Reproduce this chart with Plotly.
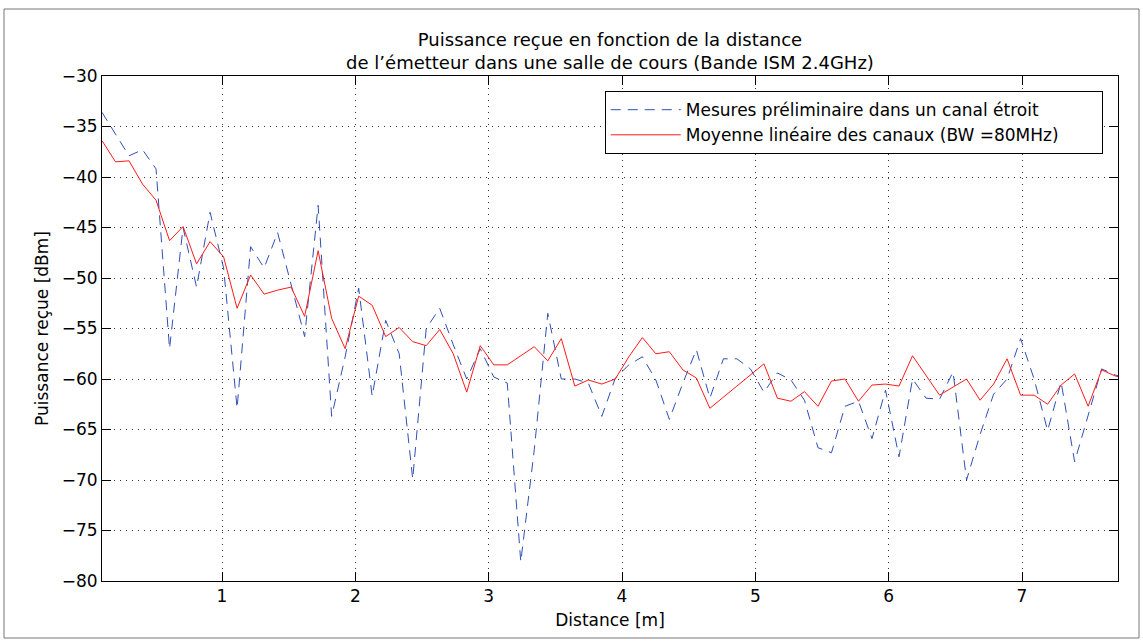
import numpy as np
import plotly.graph_objects as go

# distance steps (77 measurement points)
distance = np.linspace(0.1, 7.8, 77)

mesure_canal = [
    -33.6, -35.8, -37.9, -37.3, -39.2, -57.0, -45.0, -50.9, -43.5, -49.0,
    -62.9, -46.9, -49.0, -45.5, -50.8, -55.8, -42.8, -63.7, -57.8, -51.0,
    -61.7, -54.2, -57.5, -69.9, -55.0, -53.0, -56.6, -60.0, -57.0, -59.8,
    -60.4, -78.1, -67.0, -53.5, -60.0, -60.0, -60.4, -63.7, -59.9, -58.6,
    -57.8, -60.1, -64.0, -60.4, -57.1, -61.9, -58.0, -58.0, -59.0, -61.3,
    -59.4, -60.1, -62.1, -66.8, -67.3, -62.7, -62.2, -65.9, -61.1, -67.7,
    -60.0, -61.9, -62.0, -59.3, -70.0, -65.5, -61.5, -60.0, -56.0, -60.0,
    -65.1, -60.3, -68.2, -63.5, -59.0, -59.6, -60.0,
]

moyenne_canaux = [
    -36.4, -38.5, -38.4, -40.7, -42.3, -46.3, -44.9, -48.6, -46.4, -47.9,
    -53.0, -49.7, -51.6, -51.2, -50.9, -53.8, -47.3, -54.0, -57.0, -51.8,
    -52.7, -55.8, -54.9, -56.3, -56.7, -55.1, -57.5, -61.3, -56.7, -58.6,
    -58.6, -57.7, -56.8, -58.2, -56.0, -60.7, -60.1, -60.5, -60.0, -57.8,
    -55.9, -57.5, -57.3, -59.1, -59.9, -62.9, -61.8, -60.7, -59.6, -58.5,
    -61.9, -62.2, -61.25, -62.7, -60.2, -60.0, -62.2, -60.6, -60.5, -60.7,
    -57.7, -59.6, -61.6, -60.8, -60.0, -62.1, -60.5, -58.0, -61.6, -61.6,
    -62.5, -60.6, -59.5, -62.7, -59.1, -59.7, -60.0,
]

x_ticks = [1, 2, 3, 4, 5, 6, 7]
y_ticks = [-80, -75, -70, -65, -60, -55, -50, -45, -40, -35, -30]

# figure geometry (px)
W, H = 1143, 642
ML, MR, MT, MB = 102, 25, 76, 61
PW, PH = W - ML - MR, H - MT - MB


def px_to_paper(x, y):
    return (x - ML) / PW, (H - MB - y) / PH


FONT = "DejaVu Sans"
PAD = "\u00a0" * 7  # MATLAB legend leaves extra room on the right

fig = go.Figure()

fig.add_trace(go.Scatter(
    x=distance, y=mesure_canal, mode="lines",
    name="Mesures préliminaire dans un canal étroit",
    line=dict(color="#2f4fb5", width=1, dash="10px,7px"),
))
fig.add_trace(go.Scatter(
    x=distance, y=moyenne_canaux, mode="lines",
    name="Moyenne linéaire des canaux (BW =80MHz)" + PAD,
    line=dict(color="#ff1a1a", width=1),
))

axis_common = dict(
    showline=True, linecolor="black", linewidth=1, mirror="allticks",
    ticks="inside", ticklen=9, tickcolor="black",
    showgrid=True, gridcolor="#333333", gridwidth=1, griddash="1px,5px",
    zeroline=False, tickfont=dict(family=FONT, size=17, color="black"),
)

fig.update_xaxes(
    range=[0.1, 7.72], tickvals=x_ticks,
    title=dict(text="Distance [m]", font=dict(family=FONT, size=17, color="black"), standoff=8),
    **axis_common,
)
fig.update_yaxes(
    range=[-80, -30], tickvals=y_ticks,
    title=dict(text="Puissance reçue [dBm]", font=dict(family=FONT, size=17, color="black"), standoff=8),
    **axis_common,
)

# outer figure frame
x0, y0 = px_to_paper(4, 9)
x1, y1 = px_to_paper(1139, 638)
fig.add_shape(type="rect", xref="paper", yref="paper",
              x0=x0, y0=y1, x1=x1, y1=y0,
              line=dict(color="#777777", width=1), layer="below")

fig.update_layout(
    width=W, height=H,
    margin=dict(l=ML, r=MR, t=MT, b=MB),
    paper_bgcolor="white", plot_bgcolor="white",
    font=dict(family=FONT, size=17, color="black"),
    title=dict(
        text="Puissance reçue en fonction de la distance<br>de l’émetteur dans une salle de cours (Bande ISM 2.4GHz)",
        x=0.5, xref="paper", xanchor="center",
        y=1 - 46 / H, yref="container", yanchor="top",
        font=dict(family=FONT, size=18, color="black"),
    ),
    legend=dict(
        x=0.985, y=0.97, xanchor="right", yanchor="top",
        bgcolor="white", bordercolor="black", borderwidth=1,
        font=dict(family=FONT, size=17, color="black"),
        itemwidth=70,
    ),
)

fig.write_html("out.html", config={"displayModeBar": False},
               post_script="document.body.style.margin='0px';")
